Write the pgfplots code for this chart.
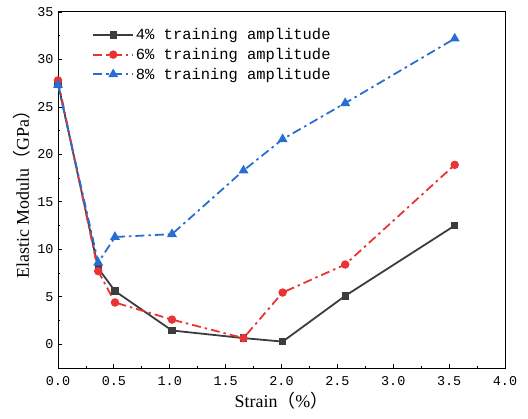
\documentclass[border=0pt]{standalone}
\usepackage{fontspec}
\setmainfont{Liberation Serif}
\newfontfamily\monofont{Liberation Mono}
\newfontfamily\cjk{Noto Sans CJK SC}
\usepackage{pgfplots}
\pgfplotsset{compat=1.18}
\definecolor{sblack}{RGB}{60,60,60}
\definecolor{sred}{RGB}{232,52,52}
\definecolor{sblue}{RGB}{40,110,210}

\begin{document}
\begin{tikzpicture}
\begin{axis}[
    scale only axis,
    width=447bp, height=356bp,
    xmin=0, xmax=4, ymin=-2.5, ymax=35,
    xtick={0,0.5,...,4}, ytick={0,5,...,35},
    minor x tick num=1, minor y tick num=1,
    xticklabel style={yshift=-5pt, /pgf/number format/.cd, fixed, fixed zerofill, precision=1},
    yticklabel style={xshift=-1pt},
    tick label style={font=\monofont\fontsize{13.5}{14}\selectfont},
    /pgf/number format/assume math mode=true,
    tick align=inside,
    xtick pos=bottom, ytick pos=left,
    major tick length=4pt, minor tick length=2.5pt,
    axis line style={line width=1pt},
    tick style={line width=0.8pt, black},
    xlabel={Strain{\cjk （}\%{\cjk ）}},
    ylabel={Elastic Modulu{\cjk （}GPa{\cjk ）}},
    label style={font=\fontsize{18}{19}\selectfont},
    legend style={draw=none, fill=none, at={(0.07,0.965)}, anchor=north west,
        font=\monofont\fontsize{15.5}{16}\selectfont, row sep=3pt},
    legend cell align=left,
    legend image code/.code={\draw[mark repeat=2, mark phase=2]
        plot coordinates {(0cm,0cm) (0.7cm,0cm) (1.4cm,0cm)};},
]
\coordinate (sw) at (rel axis cs:0,0);
\coordinate (ne) at (rel axis cs:1,1);
\addplot[color=sblack, line width=1.8pt, mark=square*, mark size=2.8pt] coordinates {
    (0,27.5) (0.36,8.0) (0.51,5.6) (1.02,1.45) (1.66,0.65) (2.01,0.28) (2.57,5.1) (3.55,12.5)
};
\addplot[color=sred, line width=1.8pt, dash pattern=on 9pt off 4pt on 2.5pt off 4pt, mark=*, mark size=3.3pt, mark options={solid}] coordinates {
    (0,27.8) (0.36,7.7) (0.51,4.4) (1.02,2.6) (1.66,0.65) (2.01,5.45) (2.57,8.4) (3.55,18.9)
};
\addplot[color=sblue, line width=1.8pt, dash pattern=on 9pt off 4pt on 2.5pt off 4pt, mark=triangle*, mark size=4pt, mark options={solid}] coordinates {
    (0,27.3) (0.36,8.6) (0.51,11.3) (1.02,11.6) (1.66,18.3) (2.01,21.6) (2.57,25.4) (3.55,32.2)
};
\legend{4\% training amplitude, 6\% training amplitude, 8\% training amplitude}
\end{axis}
\path ([shift={(-58bp,-51bp)}]sw) rectangle ([shift={(23bp,12bp)}]ne);
\end{tikzpicture}
\end{document}
